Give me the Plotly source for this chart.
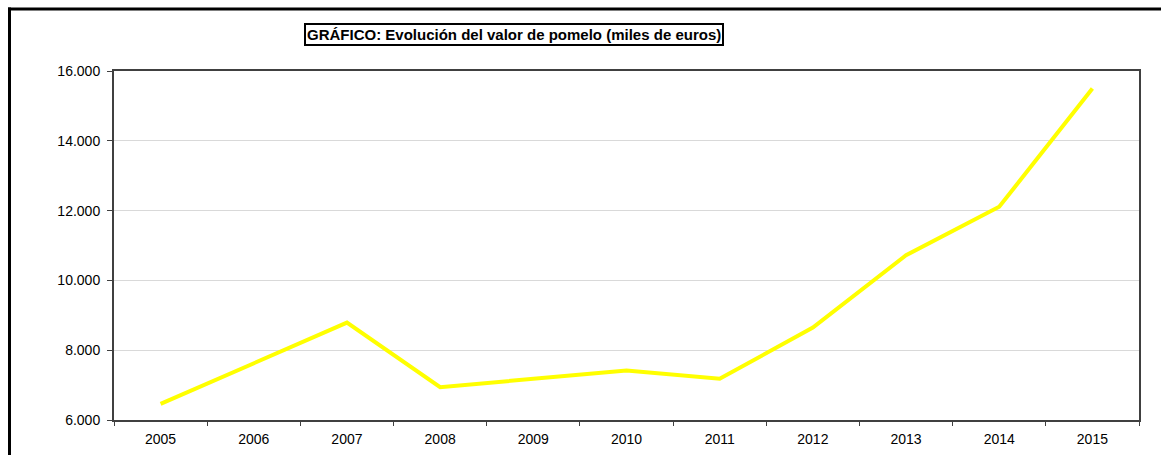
import plotly.graph_objects as go

years = ["2005", "2006", "2007", "2008", "2009", "2010", "2011", "2012", "2013", "2014", "2015"]
valor = [6460, 7620, 8790, 6940, 7190, 7420, 7180, 8650, 10720, 12110, 15500]
y_tickvals = [6000, 8000, 10000, 12000, 14000, 16000]
y_ticktext = ["6.000", "8.000", "10.000", "12.000", "14.000", "16.000"]
title_text = "GRÁFICO: Evolución del valor de pomelo (miles de euros)"

W, H = 1161, 455
ML, MR, MT, MB = 114, 22, 71, 35
PW, PH = W - ML - MR, H - MT - MB

def px_x(p):
    return (p - ML) / PW

def px_y(p):
    return 1 + (MT - p) / PH

fig = go.Figure()
fig.add_trace(go.Scatter(
    x=years, y=valor, mode="lines",
    line=dict(color="#FFFF00", width=4),
    hoverinfo="skip", showlegend=False,
))

font = "Liberation Sans, Arial, sans-serif"
fig.update_layout(
    width=W, height=H, autosize=False,
    margin=dict(l=ML, r=MR, t=MT, b=MB, pad=0, autoexpand=False),
    paper_bgcolor="white", plot_bgcolor="white",
    font=dict(family=font, size=14, color="black"),
    showlegend=False,
    xaxis=dict(
        type="category", range=[-0.5, 10.5], automargin=False,
        showgrid=False, zeroline=False,
        showline=True, linecolor="#404040", linewidth=2, mirror=True,
        ticks="outside", tickson="boundaries", ticklen=4, tickcolor="#404040", tickwidth=1,
        tickfont=dict(size=14, family=font, color="black"),
        ticklabelstandoff=5,
    ),
    yaxis=dict(
        range=[6000, 16000], automargin=False,
        tickvals=y_tickvals, ticktext=y_ticktext,
        showgrid=True, gridcolor="#d9d9d9", gridwidth=1,
        zeroline=False,
        showline=True, linecolor="#404040", linewidth=2, mirror=True,
        ticks="outside", ticklen=5, tickcolor="#404040", tickwidth=1,
        tickfont=dict(size=14, family=font, color="black"),
        ticklabelstandoff=4,
    ),
    shapes=[
        dict(type="line", xref="paper", yref="paper",
             x0=px_x(9.5), x1=px_x(9.5), y0=px_y(7.5), y1=px_y(470),
             line=dict(color="black", width=3), layer="above"),
        dict(type="line", xref="paper", yref="paper",
             x0=px_x(8), x1=px_x(1180), y0=px_y(9), y1=px_y(9),
             line=dict(color="black", width=3), layer="above"),
    ],
    annotations=[
        dict(text="<b>" + title_text + "</b>", xref="paper", yref="paper",
             x=px_x(514), y=px_y(34.5), xanchor="center", yanchor="middle",
             showarrow=False, font=dict(size=15, family=font, color="black"),
             bordercolor="black", borderwidth=2, borderpad=1, bgcolor="white"),
    ],
)

fig.write_html(
    "out.html",
    config={"displayModeBar": False, "responsive": False},
    post_script="document.body.style.margin='0';document.body.style.overflow='hidden';",
)
